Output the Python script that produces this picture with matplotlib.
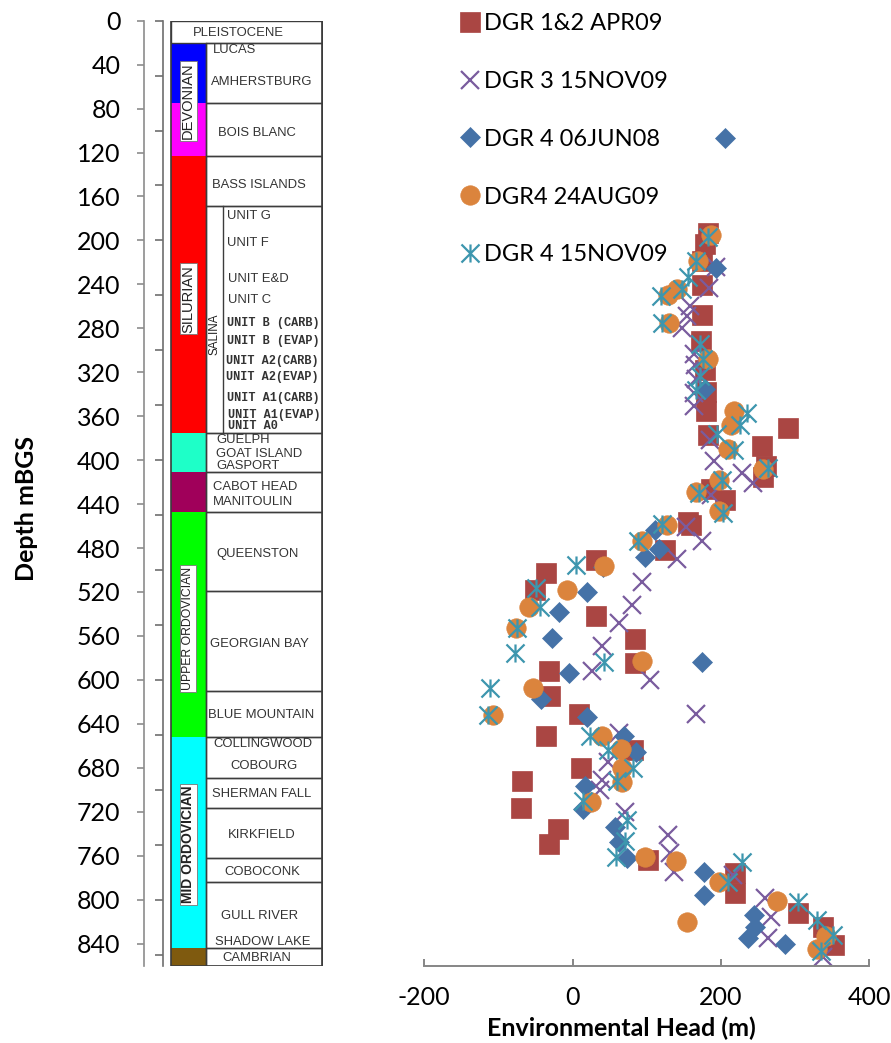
import matplotlib
matplotlib.use('Agg')
import matplotlib.pyplot as plt
from matplotlib.patches import Rectangle
from matplotlib.path import Path
import numpy as np

plt.rcParams['font.family'] = ['Lato', 'DejaVu Sans']
plt.rcParams['axes.unicode_minus'] = False

# environmental head (m) vs depth (mBGS) for each survey
dgr12_head = [183, 179, 174, 174, 175, 173, 178, 180, 180, 183, 290, 255, 261, 257, 187, 205,
              155, 160, 125, 32, -36, -51, 32, 84, 84, -32, -31, 8, -36, 82, 11, -68, -70,
              -20, -32, 102, 219, 219, 304, 338, 353]
dgr12_depth = [193, 203, 219, 241, 268, 292, 318, 338, 355, 377, 371, 387, 405, 415, 426, 436,
               456, 459, 482, 491, 503, 518, 542, 563, 585, 592, 615, 631, 651, 664, 680, 692, 717,
               736, 749, 764, 776, 794, 812, 825, 841]

dgr3_head = [193, 184, 158, 154, 148, 163, 165, 167, 163, 163, 185, 190, 228, 243, 187, 153,
             175, 141, 93, 80, 62, 40, 26, 104, 167, 62, 48, 39, 37, 71, 129, 131, 137, 216,
             260, 268, 264, 338]
dgr3_depth = [224, 243, 260, 269, 280, 303, 313, 326, 339, 351, 382, 401, 412, 421, 432, 461,
              474, 490, 511, 532, 548, 569, 592, 600, 631, 648, 675, 691, 700, 720, 741, 758, 775,
              778, 799, 816, 835, 852]

dgr4_jun08_head = [205, 193, 178, 111, 117, 98, 41, 19, -19, -28, 175, -5, -42, 20, 69, 85, 17,
                   14, 57, 63, 73, 177, 177, 244, 246, 237, 286]
dgr4_jun08_depth = [107, 225, 335, 464, 481, 488, 497, 520, 538, 562, 584, 594, 617, 634, 651,
                    666, 697, 718, 734, 748, 762, 775, 796, 814, 825, 835, 840]

dgr4_aug09_head = [187, 169, 141, 129, 130, 183, 217, 214, 209, 257, 197, 167, 198, 127, 94, 42,
                   -7, -59, -76, 93, -54, -108, 39, 65, 66, 67, 25, 97, 140, 198, 276, 154, 342, 330]
dgr4_aug09_depth = [195, 219, 244, 250, 275, 308, 355, 368, 390, 408, 418, 429, 446, 459, 474,
                    496, 518, 534, 553, 583, 607, 632, 651, 663, 680, 693, 711, 761, 765, 784, 801,
                    820, 833, 845]

dgr4_nov09_head = [183, 166, 156, 147, 119, 121, 172, 176, 172, 167, 235, 225, 195, 218, 264, 202,
                   171, 203, 120, 88, 4, -50, -44, -75, -78, 42, -112, -114, 24, 48, 82, 60, 14,
                   73, 71, 59, 229, 209, 304, 330, 351, 335]
dgr4_nov09_depth = [197, 219, 233, 244, 251, 275, 294, 308, 323, 336, 357, 368, 376, 391, 407,
                    418, 430, 448, 458, 474, 495, 516, 534, 553, 576, 584, 607, 632, 651, 664, 680,
                    692, 710, 728, 747, 761, 766, 784, 802, 819, 832, 847]

# stratigraphic column
block_top = [20, 75, 123, 375, 411, 447, 652, 844]
block_bottom = [75, 123, 375, 411, 447, 652, 844, 860]
block_colors = ['#0000ff', '#ff00ff', '#ff0000', '#1effc8', '#a0005a', '#00ff00', '#00ffff', '#7f5a0f']
formation_bounds = [0, 20, 75, 123, 169, 375, 411, 447, 519, 610, 652, 689, 717, 762, 784, 844, 860]
salina_top, salina_bottom = 169, 375

unit_names = ['PLEISTOCENE', 'LUCAS', 'AMHERSTBURG', 'BOIS BLANC', 'BASS ISLANDS', 'UNIT G',
              'UNIT F', 'UNIT E&D', 'UNIT C', 'UNIT B (CARB)', 'UNIT B (EVAP)', 'UNIT A2(CARB)',
              'UNIT A2(EVAP)', 'UNIT A1(CARB)', 'UNIT A1(EVAP)', 'UNIT A0', 'GUELPH',
              'GOAT ISLAND', 'GASPORT', 'CABOT HEAD', 'MANITOULIN', 'QUEENSTON', 'GEORGIAN BAY',
              'BLUE MOUNTAIN', 'COLLINGWOOD', 'COBOURG', 'SHERMAN FALL', 'KIRKFIELD', 'COBOCONK',
              'GULL RIVER', 'SHADOW LAKE', 'CAMBRIAN']
unit_depth = [11, 27, 55.5, 102, 149.5, 178, 202.5, 235.5, 254, 275.5, 292, 309.5, 324.5, 343,
              359, 369, 382, 394.5, 405.5, 424, 438, 485, 567, 632, 658.5, 678.5, 704, 741, 775,
              814.5, 838.5, 853.5]
unit_x = [49, 69, 66.5, 74, 68.5, 83, 83, 84, 84, 83, 83, 82, 82, 83, 84, 84, 72, 72, 72, 69,
          69, 72, 66.5, 64, 69, 86, 68.5, 83.5, 80, 77, 71, 78]
era_names = ['DEVONIAN', 'SILURIAN', 'SALINA', 'UPPER ORDOVICIAN', 'MID ORDOVICIAN']
era_depth = [73, 253, 285, 553, 750]

fig = plt.figure(figsize=(8.91, 10.43), dpi=100)
W, H = 891.0, 1043.0
top_px, bot_px = 20.7, 965.5

ax_col = fig.add_axes([144 / W, 1 - bot_px / H, 178.5 / W, (bot_px - top_px) / H])
ax_sc = fig.add_axes([424.3 / W, 1 - bot_px / H, 445 / W, (bot_px - top_px) / H])

# ---- column
ax_col.set_xlim(0, 178.5)
ax_col.set_ylim(860, 0)
for s in ['top', 'right', 'bottom']:
    ax_col.spines[s].set_visible(False)
ax_col.spines['left'].set_color('#8c8c8c')
ax_col.spines['left'].set_linewidth(1.2)
ax_col.set_xticks([])
ax_col.set_yticks(np.arange(0, 841, 40))
ax_col.tick_params(axis='y', direction='out', length=5, width=1.2, color='#8c8c8c',
                   labelsize=18, pad=12)
ax_col.set_ylabel('Depth mBGS', fontsize=18, fontweight='bold')
ax_col.yaxis.set_label_coords(-0.594, 0.484)

x0, xe, xs, x1 = 26.7, 61.7, 79.3, 178.3
edge = '#3c3c3c'
for t, b, c in zip(block_top, block_bottom, block_colors):
    ax_col.add_patch(Rectangle((x0, t), xe - x0, b - t, facecolor=c, edgecolor='none'))
ax_col.add_patch(Rectangle((x0, 0), x1 - x0, 20, facecolor='white', edgecolor=edge, lw=1))
for t, b in zip(formation_bounds[1:-1], formation_bounds[2:]):
    ax_col.add_patch(Rectangle((xe, t), x1 - xe, b - t, facecolor='none', edgecolor=edge, lw=1))
ax_col.add_patch(Rectangle((x0, 0), x1 - x0, 860, facecolor='none', edgecolor=edge, lw=1.2))
ax_col.plot([xe, xe], [20, 860], color=edge, lw=1)
ax_col.plot([xs, xs], [salina_top, salina_bottom], color=edge, lw=1)

# inner scale of the pasted column
ax_col.plot([18.7, 18.7], [0, 860], color='#6e6e6e', lw=1.2, clip_on=False)
ax_col.hlines(np.arange(0, 851, 50), 11, 18.7, color='#6e6e6e', lw=1.2, clip_on=False)

mono_units = {'UNIT B (CARB)', 'UNIT B (EVAP)', 'UNIT A2(CARB)', 'UNIT A2(EVAP)',
              'UNIT A1(CARB)', 'UNIT A1(EVAP)', 'UNIT A0'}
for name, d, x in zip(unit_names, unit_depth, unit_x):
    if name in mono_units:
        ax_col.text(x, d, name, fontsize=8.6, family='Liberation Mono', fontweight='bold',
                    color='#333333', va='center', ha='left')
    else:
        ax_col.text(x, d, name, fontsize=9.4, family='Liberation Sans', color='#333333',
                    va='center', ha='left')

box = dict(facecolor='white', edgecolor='#777777', lw=0.6, pad=1.2)
era_x = [44.2, 44.2, 70.5, 44.2, 44.2]
era_size = [10.5, 10.5, 8.4, 8.8, 10]
era_weight = ['normal', 'normal', 'normal', 'normal', 'bold']
for name, d, x, fs, fw in zip(era_names, era_depth, era_x, era_size, era_weight):
    ax_col.text(x, d, name, rotation=90, fontsize=fs, fontweight=fw, family='Liberation Sans',
                color='#222222', ha='center', va='center',
                bbox=None if name == 'SALINA' else box)

# ---- scatter
star = Path([(0, -1), (0, 1), (-1, -1), (1, 1), (-1, 1), (1, -1)],
            [Path.MOVETO, Path.LINETO, Path.MOVETO, Path.LINETO, Path.MOVETO, Path.LINETO])

ax_sc.plot(dgr12_head, dgr12_depth, ls='none', marker='s', ms=14, color='#aa4643',
           mec='#aa4643', mew=0.5, label='DGR 1&2 APR09')
ax_sc.plot(dgr3_head, dgr3_depth, ls='none', marker='x', ms=13, color='#7a5c9e', mew=1.6,
           label='DGR 3 15NOV09')
ax_sc.plot(dgr4_jun08_head, dgr4_jun08_depth, ls='none', marker='D', ms=10, color='#4572a7',
           mec='#4572a7', mew=0.5, label='DGR 4 06JUN08')
ax_sc.plot(dgr4_aug09_head, dgr4_aug09_depth, ls='none', marker='o', ms=14, color='#db843d',
           mec='#db843d', mew=0.5, label='DGR4 24AUG09')
ax_sc.plot(dgr4_nov09_head, dgr4_nov09_depth, ls='none', marker=star, ms=13, color='#3d96ae',
           mew=1.6, label='DGR 4 15NOV09')

ax_sc.set_xlim(-200, 400)
ax_sc.set_ylim(860, 0)
ax_sc.set_xticks([-200, 0, 200, 400])
ax_sc.set_yticks([])
for s in ['top', 'right', 'left']:
    ax_sc.spines[s].set_visible(False)
ax_sc.spines['bottom'].set_color('#868686')
ax_sc.spines['bottom'].set_linewidth(1.4)
ax_sc.tick_params(axis='x', direction='in', length=5, width=1.4, color='#868686',
                  labelsize=18, pad=15)
ax_sc.set_xlabel('Environmental Head (m)', fontsize=18, fontweight='bold')
ax_sc.xaxis.set_label_coords(0.442, -0.0545)
for c in ax_sc.lines:
    c.set_clip_on(False)

ax_sc.legend(loc='upper left', bbox_to_anchor=(458 / W, 1 - 13 / H), bbox_transform=fig.transFigure,
             frameon=False, fontsize=17, labelspacing=1.56, handlelength=1.0, handletextpad=0.12,
             borderpad=0, borderaxespad=0, numpoints=1)

fig.savefig('out.png', dpi=100)
